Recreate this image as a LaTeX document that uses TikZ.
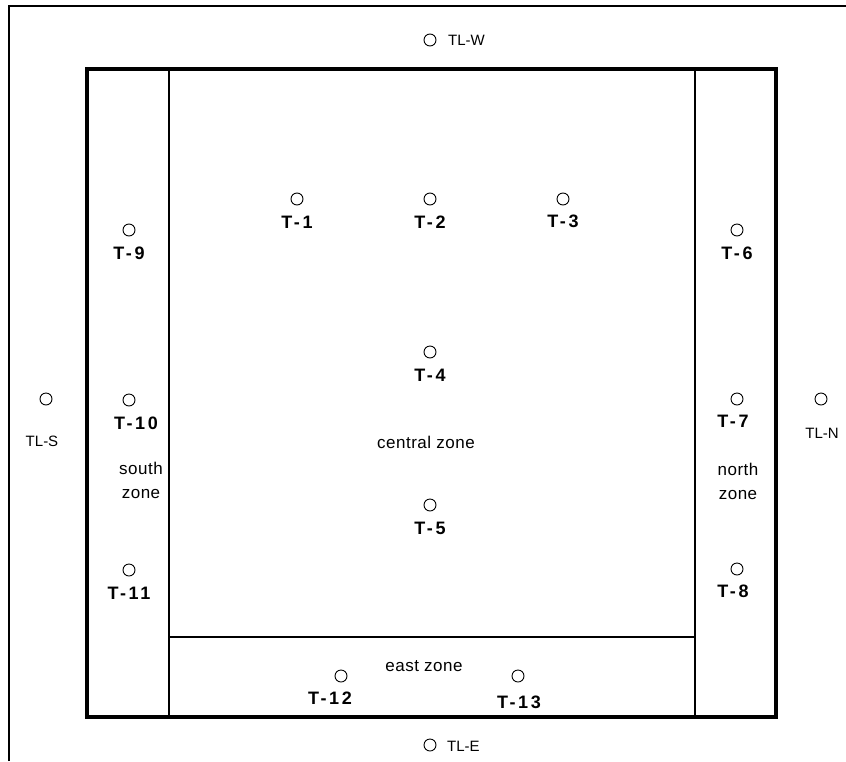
\documentclass[tikz,border=0pt]{standalone}
\usepackage{fontspec}
\setmainfont{Liberation Sans}
\newfontfamily\spacedbold[LetterSpace=14]{Liberation Sans}
\newfontfamily\spacedreg[LetterSpace=3]{Liberation Sans}
\begin{document}
\begin{tikzpicture}[x=1pt,y=-1pt,
  sensor/.style={circle,draw,line width=0.9pt,minimum size=12pt,inner sep=0pt},
  tlab/.style={inner sep=0pt,font=\spacedbold\bfseries\fontsize{18}{20}\selectfont},
  llab/.style={inner sep=0pt,font=\fontsize{15}{17}\selectfont},
  zlab/.style={inner sep=0pt,align=center,font=\spacedreg\fontsize{17}{24}\selectfont},
  frameline/.style={line width=1.5pt},
  thin/.style={line width=1.3pt},
  thick/.style={line width=3.5pt}]
\useasboundingbox (0,0) rectangle (846,761);
% outer frame
\draw[frameline] (9,761) -- (9,6) -- (846,6);
% inner zone lines
\draw[thin] (169,69) -- (169,717);
\draw[thin] (695,69) -- (695,717);
\draw[thin] (169,637) -- (695,637);
% thick boundary
\draw[thick] (87,69) rectangle (776,717);
% sensors
\node[sensor] (tlw) at (430,40) {};
\node[llab,anchor=west] (tlwl) at (448,40) {TL-W};
\node[sensor] (t1) at (297,199) {};
\node[tlab] (t1l) at (297,222) {T-1};
\node[sensor] (t2) at (430,199) {};
\node[tlab] (t2l) at (430,222) {T-2};
\node[sensor] (t3) at (563,199) {};
\node[tlab] (t3l) at (563,221) {T-3};
\node[sensor] (t9) at (129,230) {};
\node[tlab] (t9l) at (129,253) {T-9};
\node[sensor] (t6) at (737,230) {};
\node[tlab] (t6l) at (737,253) {T-6};
\node[sensor] (t4) at (430,352) {};
\node[tlab] (t4l) at (430,375) {T-4};
\node[sensor] (tls) at (46,399) {};
\node[llab] (tlsl) at (42,441) {TL-S};
\node[sensor] (t10) at (129,400) {};
\node[tlab] (t10l) at (136,423) {T-10};
\node[sensor] (t7) at (737,399) {};
\node[tlab] (t7l) at (733,421) {T-7};
\node[sensor] (tln) at (821,399) {};
\node[llab] (tlnl) at (822,433) {TL-N};
\node[zlab] (cz) at (426,442) {central zone};
\node[zlab] (sz) at (141,480) {south\\zone};
\node[zlab] (nz) at (738,481) {north\\zone};
\node[sensor] (t5) at (430,505) {};
\node[tlab] (t5l) at (430,528) {T-5};
\node[sensor] (t11) at (129,570) {};
\node[tlab] (t11l) at (129,593) {T-11};
\node[sensor] (t8) at (737,569) {};
\node[tlab] (t8l) at (733,591) {T-8};
\node[zlab] (ez) at (424,666) {east zone};
\node[sensor] (t12) at (341,676) {};
\node[tlab] (t12l) at (330,698) {T-12};
\node[sensor] (t13) at (518,676) {};
\node[tlab] (t13l) at (519,702) {T-13};
\node[sensor] (tle) at (430,745) {};
\node[llab,anchor=west] (tlel) at (447,746) {TL-E};
\end{tikzpicture}
\end{document}
